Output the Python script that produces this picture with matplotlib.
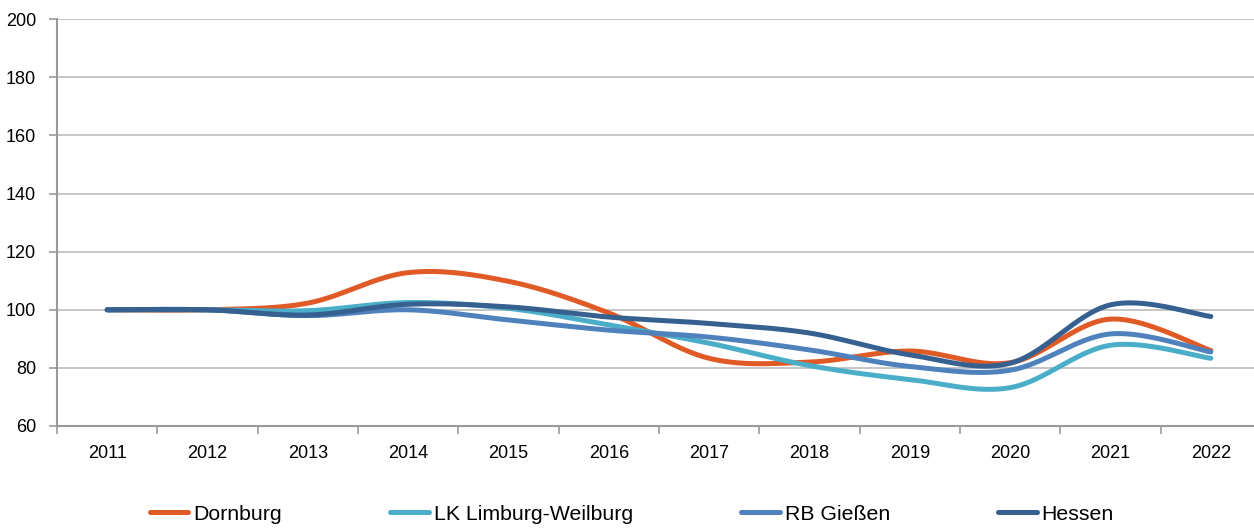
import numpy as np
import matplotlib
matplotlib.use("Agg")
import matplotlib.pyplot as plt
from matplotlib.ticker import FixedLocator

plt.rcParams['font.family'] = ['Liberation Sans', 'DejaVu Sans']

years = ["2011", "2012", "2013", "2014", "2015", "2016", "2017", "2018", "2019", "2020", "2021", "2022"]
dornburg = [100, 100, 102.3, 112.8, 109.8, 98.9, 83.3, 82.0, 85.8, 81.8, 96.8, 86.0]
lk_limburg = [100, 100, 99.7, 102.5, 100.5, 94.8, 88.5, 80.8, 76.0, 73.2, 87.8, 83.3]
rb_giessen = [100, 100, 98.0, 100.0, 96.5, 93.0, 90.6, 86.2, 80.5, 79.2, 91.7, 85.5]
hessen = [100, 100, 98.2, 101.9, 101.0, 97.5, 95.3, 92.0, 84.5, 81.6, 101.7, 97.7]

series = [
    ("Dornburg", dornburg, "#E05A25"),
    ("LK Limburg-Weilburg", lk_limburg, "#4BAEC8"),
    ("RB Gießen", rb_giessen, "#4F81BD"),
    ("Hessen", hessen, "#35608F"),
]


def smooth(xs, ys, n=40):
    xs = np.asarray(xs, float)
    ys = np.asarray(ys, float)
    px = np.concatenate([[xs[0]], xs, [xs[-1]]])
    py = np.concatenate([[ys[0]], ys, [ys[-1]]])
    outx, outy = [], []
    t = np.linspace(0, 1, n)
    for i in range(1, len(px) - 2):
        p0 = np.array([px[i], py[i]])
        p3 = np.array([px[i + 1], py[i + 1]])
        c1 = p0 + (np.array([px[i + 1], py[i + 1]]) - np.array([px[i - 1], py[i - 1]])) / 6
        c2 = p3 - (np.array([px[i + 2], py[i + 2]]) - np.array([px[i], py[i]])) / 6
        b = ((1 - t) ** 3)[:, None] * p0 + (3 * (1 - t) ** 2 * t)[:, None] * c1 \
            + (3 * (1 - t) * t ** 2)[:, None] * c2 + (t ** 3)[:, None] * p3
        outx.extend(b[:, 0])
        outy.extend(b[:, 1])
    return np.array(outx), np.array(outy)


fig = plt.figure(figsize=(12.54, 5.31), dpi=100)
ax = fig.add_axes([57 / 1254, 105 / 531, (1261 - 57) / 1254, (426 - 19.3) / 531])

x = np.arange(len(years))
for name, vals, col in series:
    sx, sy = smooth(x, vals)
    ax.plot(sx, sy, color=col, lw=3.6, solid_capstyle='round', label=name, zorder=3)

ax.set_xlim(-0.5, len(years) - 0.5)
ax.set_ylim(60, 200)
ax.set_yticks(np.arange(60, 201, 20))
ax.set_xticks(x)
ax.set_xticklabels(years)
ax.xaxis.set_minor_locator(FixedLocator(np.arange(-0.5, len(years), 1)))
ax.tick_params(axis='x', which='major', length=0, pad=14, labelsize=13)
ax.tick_params(axis='x', which='minor', length=6, width=1.2, color='#999999', direction='out')
ax.tick_params(axis='y', which='major', length=6, width=1.2, color='#999999', direction='out', pad=9, labelsize=13)

ax.grid(axis='y', color='#BBBBBB', lw=1.2, zorder=0)
ax.set_axisbelow(True)
for s in ['top', 'right']:
    ax.spines[s].set_visible(False)
for s in ['left', 'bottom']:
    ax.spines[s].set_color('#999999')
    ax.spines[s].set_linewidth(1.5)

leg = fig.legend(loc='center', bbox_to_anchor=(0.504, 17 / 531), ncol=4,
                 frameon=False, fontsize=15.3, handlelength=1.8, handletextpad=0.24,
                 columnspacing=5.1)
for h in leg.get_lines():
    h.set_linewidth(3.6)

fig.savefig("out.png", dpi=100)
